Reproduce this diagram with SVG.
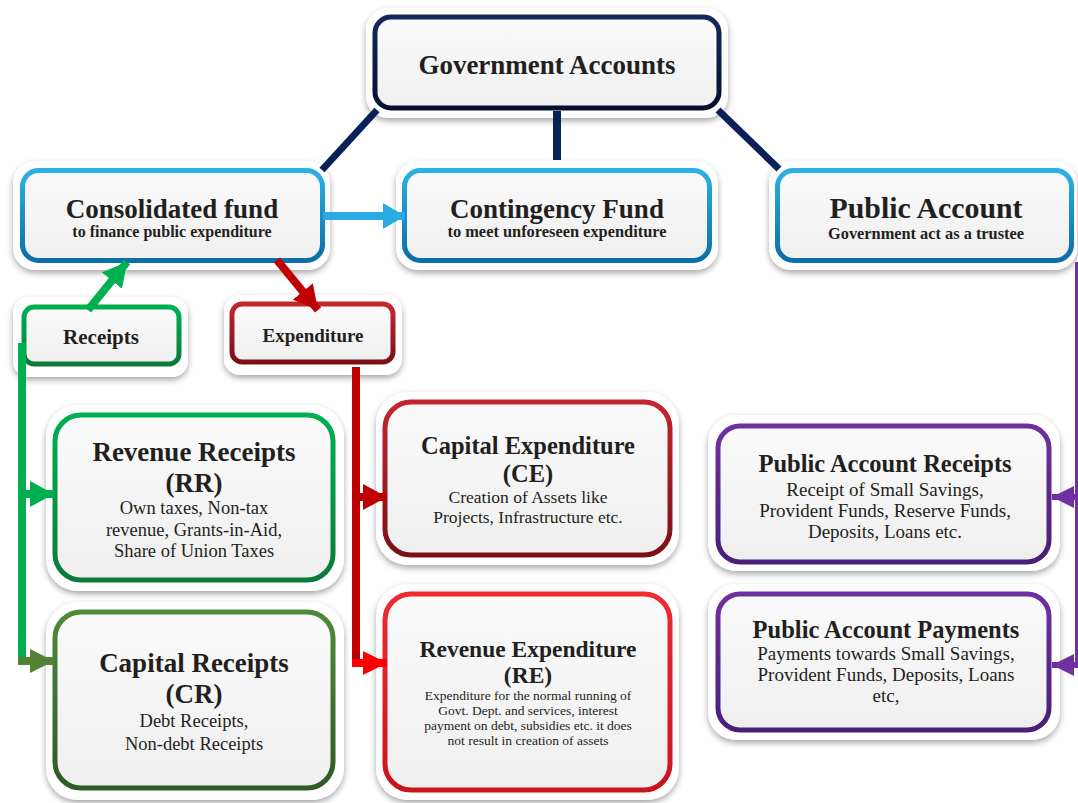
<svg xmlns="http://www.w3.org/2000/svg" width="1078" height="803" viewBox="0 0 1078 803">
<defs>
<filter id="sh" x="-10%" y="-10%" width="120%" height="130%">
<feDropShadow dx="0" dy="3" stdDeviation="3" flood-color="#000" flood-opacity="0.35"/>
</filter>
<linearGradient id="gFill" x1="0" y1="0" x2="0" y2="1">
<stop offset="0" stop-color="#fafafa"/><stop offset="1" stop-color="#efefef"/>
</linearGradient>
<linearGradient id="gNavy" x1="0" y1="0" x2="0" y2="1">
<stop offset="0" stop-color="#14285c"/><stop offset="1" stop-color="#050f2e"/>
</linearGradient>
<linearGradient id="gBlue" x1="0" y1="0" x2="0" y2="1">
<stop offset="0" stop-color="#2cb0e6"/><stop offset="1" stop-color="#0b6ea8"/>
</linearGradient>
<linearGradient id="gGreen" x1="0" y1="0" x2="0" y2="1">
<stop offset="0" stop-color="#00b050"/><stop offset="1" stop-color="#0b7a3a"/>
</linearGradient>
<linearGradient id="gOlive" x1="0" y1="0" x2="0" y2="1">
<stop offset="0" stop-color="#4f8a3a"/><stop offset="1" stop-color="#2e5a24"/>
</linearGradient>
<linearGradient id="gDRed" x1="0" y1="0" x2="0" y2="1">
<stop offset="0" stop-color="#c4262e"/><stop offset="1" stop-color="#7a1016"/>
</linearGradient>
<linearGradient id="gRed" x1="0" y1="0" x2="0" y2="1">
<stop offset="0" stop-color="#ef2a30"/><stop offset="1" stop-color="#c8141c"/>
</linearGradient>
<linearGradient id="gPurple" x1="0" y1="0" x2="0" y2="1">
<stop offset="0" stop-color="#7030a0"/><stop offset="1" stop-color="#4a1f78"/>
</linearGradient>
<marker id="aBlue" markerUnits="userSpaceOnUse" markerWidth="22" markerHeight="26" refX="22" refY="13" orient="auto"><path d="M0,0 L22,13 L0,26 z" fill="#29abe2"/></marker>
<marker id="aGreen" markerUnits="userSpaceOnUse" markerWidth="24" markerHeight="26" refX="24" refY="13" orient="auto"><path d="M0,0 L24,13 L0,26 z" fill="#00b050"/></marker>
<marker id="aOlive" markerUnits="userSpaceOnUse" markerWidth="24" markerHeight="24" refX="24" refY="12" orient="auto"><path d="M0,0 L24,12 L0,24 z" fill="#548235"/></marker>
<marker id="aDRed" markerUnits="userSpaceOnUse" markerWidth="24" markerHeight="26" refX="24" refY="13" orient="auto"><path d="M0,0 L24,13 L0,26 z" fill="#c00000"/></marker>
<marker id="aRed" markerUnits="userSpaceOnUse" markerWidth="24" markerHeight="24" refX="24" refY="12" orient="auto"><path d="M0,0 L24,12 L0,24 z" fill="#ff0000"/></marker>
<marker id="aPurple" markerUnits="userSpaceOnUse" markerWidth="22" markerHeight="22" refX="22" refY="11" orient="auto"><path d="M0,0 L22,11 L0,22 z" fill="#7030a0"/></marker>
</defs>
<style>
.halo { fill:#ffffff; filter:url(#sh); }
.box { fill:url(#gFill); stroke-width:5; }
.t { font-family:"Liberation Serif","Times New Roman",serif; fill:#231f20; text-anchor:middle; }
.b { font-weight:bold; }
.ln { fill:none; }
</style>
<rect width="1078" height="803" fill="#ffffff"/>

<g id="government-accounts">
<rect class="halo" x="366" y="8" width="362" height="110" rx="22"/>
<rect class="box" x="375" y="17" width="344" height="91" rx="16" stroke="url(#gNavy)" stroke-width="6"/>
<text class="t b" x="547" y="74" font-size="27">Government Accounts</text>
</g>

<g id="consolidated-fund">
<rect class="halo" x="13" y="161" width="317" height="109" rx="22"/>
<rect class="box" x="22.5" y="170.5" width="300" height="90" rx="16" stroke="url(#gBlue)"/>
<text class="t b" x="172" y="218" font-size="27">Consolidated fund</text>
<text class="t b" x="172" y="237" font-size="16">to finance public expenditure</text>
</g>

<g id="contingency-fund">
<rect class="halo" x="396" y="161" width="322" height="109" rx="22"/>
<rect class="box" x="404.5" y="170.5" width="305" height="90" rx="16" stroke="url(#gBlue)"/>
<text class="t b" x="557" y="218" font-size="27">Contingency Fund</text>
<text class="t b" x="557" y="237" font-size="16" textLength="219" lengthAdjust="spacingAndGlyphs">to meet unforeseen expenditure</text>
</g>

<g id="public-account">
<rect class="halo" x="769" y="161" width="308" height="109" rx="22"/>
<rect class="box" x="777.5" y="170.5" width="294" height="90" rx="16" stroke="url(#gBlue)"/>
<text class="t b" x="926" y="218" font-size="29" textLength="193" lengthAdjust="spacingAndGlyphs">Public Account</text>
<text class="t b" x="926" y="239" font-size="16" textLength="196" lengthAdjust="spacingAndGlyphs">Government act as a trustee</text>
</g>

<g id="receipts">
<rect class="halo" x="13" y="297" width="175" height="80" rx="16"/>
<rect class="box" x="24" y="307" width="155" height="57" rx="10" stroke="url(#gGreen)" stroke-width="6"/>
<text class="t b" x="101" y="344" font-size="21">Receipts</text>
</g>

<g id="expenditure">
<rect class="halo" x="224" y="295" width="178" height="80" rx="16"/>
<rect class="box" x="232" y="304" width="161" height="58" rx="10" stroke="url(#gDRed)" stroke-width="6"/>
<text class="t b" x="313" y="342" font-size="19">Expenditure</text>
</g>

<g id="revenue-receipts">
<rect class="halo" x="46" y="405" width="298" height="186" rx="32"/>
<rect class="box" x="55" y="415" width="278" height="165" rx="26" stroke="url(#gGreen)" stroke-width="6"/>
<text class="t b" x="194" y="461" font-size="27">Revenue Receipts</text>
<text class="t b" x="194" y="492" font-size="27">(RR)</text>
<text class="t" x="194" y="514" font-size="18.5">Own taxes, Non-tax</text>
<text class="t" x="194" y="536" font-size="18.5">revenue, Grants-in-Aid,</text>
<text class="t" x="194" y="557" font-size="18.5">Share of Union Taxes</text>
</g>

<g id="capital-receipts">
<rect class="halo" x="46" y="602" width="298" height="198" rx="32"/>
<rect class="box" x="55" y="612" width="278" height="176" rx="26" stroke="url(#gOlive)" stroke-width="6"/>
<text class="t b" x="194" y="672" font-size="27">Capital Receipts</text>
<text class="t b" x="194" y="703" font-size="27">(CR)</text>
<text class="t" x="194" y="727" font-size="18.5">Debt Receipts,</text>
<text class="t" x="194" y="750" font-size="18.5">Non-debt Receipts</text>
</g>

<g id="capital-expenditure">
<rect class="halo" x="376" y="392" width="303" height="173" rx="32"/>
<rect class="box" x="385" y="402" width="285" height="153" rx="26" stroke="url(#gDRed)" stroke-width="6"/>
<text class="t b" x="528" y="454" font-size="24.5">Capital Expenditure</text>
<text class="t b" x="528" y="482" font-size="24.5">(CE)</text>
<text class="t" x="528" y="503" font-size="17.5">Creation of Assets like</text>
<text class="t" x="528" y="523" font-size="17.5">Projects, Infrastructure etc.</text>
</g>

<g id="revenue-expenditure">
<rect class="halo" x="376" y="584" width="303" height="216" rx="32"/>
<rect class="box" x="385" y="594" width="285" height="196" rx="26" stroke="url(#gRed)" stroke-width="6"/>
<text class="t b" x="528" y="657" font-size="23.5">Revenue Expenditure</text>
<text class="t b" x="528" y="683" font-size="23.5">(RE)</text>
<text class="t" x="528" y="700" font-size="13.5">Expenditure for the normal running of</text>
<text class="t" x="528" y="715" font-size="13.5">Govt. Dept. and services, interest</text>
<text class="t" x="528" y="730" font-size="13.5">payment on debt, subsidies etc. it does</text>
<text class="t" x="528" y="745" font-size="13.5">not result in creation of assets</text>
</g>

<g id="public-account-receipts">
<rect class="halo" x="708" y="415" width="352" height="156" rx="28"/>
<rect class="box" x="718" y="426" width="331" height="136" rx="22" stroke="url(#gPurple)" stroke-width="6"/>
<text class="t b" x="885" y="472" font-size="24.5">Public Account Receipts</text>
<text class="t" x="885" y="496" font-size="19">Receipt of Small Savings,</text>
<text class="t" x="885" y="517" font-size="19">Provident Funds, Reserve Funds,</text>
<text class="t" x="885" y="538" font-size="19">Deposits, Loans etc.</text>
</g>

<g id="public-account-payments">
<rect class="halo" x="708" y="584" width="352" height="156" rx="28"/>
<rect class="box" x="718" y="594" width="331" height="136" rx="22" stroke="url(#gPurple)" stroke-width="6"/>
<text class="t b" x="886" y="638" font-size="24.5">Public Account Payments</text>
<text class="t" x="886" y="660" font-size="19">Payments towards Small Savings,</text>
<text class="t" x="886" y="681" font-size="19">Provident Funds, Deposits, Loans</text>
<text class="t" x="886" y="702" font-size="19">etc,</text>
</g>

<g id="connectors">
<path class="ln" d="M377,110 L322,170" stroke="#0a2157" stroke-width="7"/>
<path class="ln" d="M557,111 L557,160" stroke="#0a2157" stroke-width="8"/>
<path class="ln" d="M718,110 L779,169" stroke="#0a2157" stroke-width="7"/>
<path class="ln" d="M323,216 L405,216" stroke="#29abe2" stroke-width="8" marker-end="url(#aBlue)"/>
<path class="ln" d="M88,310 L127,262" stroke="#00b050" stroke-width="8" marker-end="url(#aGreen)"/>
<path class="ln" d="M277,260 L318,310" stroke="#c00000" stroke-width="8" marker-end="url(#aDRed)"/>
<path class="ln" d="M22,343 L22,662" stroke="#00b050" stroke-width="8"/>
<path class="ln" d="M22,494 L54,494" stroke="#00b050" stroke-width="8" marker-end="url(#aGreen)"/>
<path class="ln" d="M18,661 L54,661" stroke="#548235" stroke-width="8" marker-end="url(#aOlive)"/>
<path class="ln" d="M356,367 L356,667" stroke="#c00000" stroke-width="8"/>
<path class="ln" d="M356,497 L387,497" stroke="#c00000" stroke-width="8" marker-end="url(#aDRed)"/>
<path class="ln" d="M352,663 L387,663" stroke="#ff0000" stroke-width="8" marker-end="url(#aRed)"/>
<path class="ln" d="M1076.5,262 L1076.5,667" stroke="#7030a0" stroke-width="3"/>
<path class="ln" d="M1078,497 L1052,497" stroke="#7030a0" stroke-width="6" marker-end="url(#aPurple)"/>
<path class="ln" d="M1078,665 L1052,665" stroke="#7030a0" stroke-width="6" marker-end="url(#aPurple)"/>
</g>
</svg>
